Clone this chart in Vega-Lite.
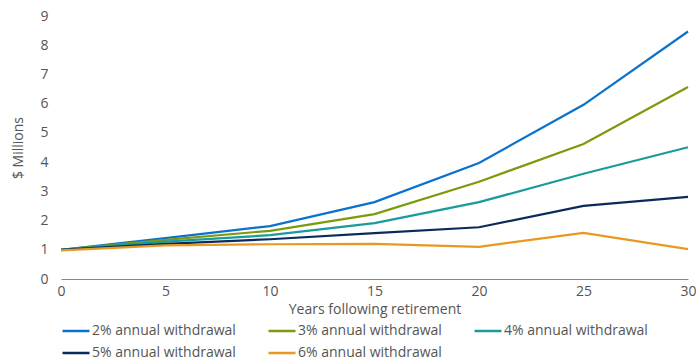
{
  "$schema": "https://vega.github.io/schema/vega-lite/v6.json",
  "autosize": "none",
  "width": 627,
  "height": 263,
  "padding": {"left": 61, "top": 16, "right": 8, "bottom": 85},
  "background": "white",
  "config": {
    "view": {"stroke": null},
    "font": "Open Sans",
    "axis": {"labelColor": "#555", "titleColor": "#555", "labelFont": "Open Sans", "titleFont": "Open Sans", "labelFontSize": 14, "titleFontSize": 14, "titleFontWeight": "normal", "grid": false}
  },
  "data": {"values": [
    {"year": 0, "series": "2% annual withdrawal", "value": 1.0},
    {"year": 5, "series": "2% annual withdrawal", "value": 1.4},
    {"year": 10, "series": "2% annual withdrawal", "value": 1.81},
    {"year": 15, "series": "2% annual withdrawal", "value": 2.63},
    {"year": 20, "series": "2% annual withdrawal", "value": 3.97},
    {"year": 25, "series": "2% annual withdrawal", "value": 5.96},
    {"year": 30, "series": "2% annual withdrawal", "value": 8.47},
    {"year": 0, "series": "3% annual withdrawal", "value": 1.0},
    {"year": 5, "series": "3% annual withdrawal", "value": 1.34},
    {"year": 10, "series": "3% annual withdrawal", "value": 1.65},
    {"year": 15, "series": "3% annual withdrawal", "value": 2.22},
    {"year": 20, "series": "3% annual withdrawal", "value": 3.33},
    {"year": 25, "series": "3% annual withdrawal", "value": 4.62},
    {"year": 30, "series": "3% annual withdrawal", "value": 6.57},
    {"year": 0, "series": "4% annual withdrawal", "value": 1.0},
    {"year": 5, "series": "4% annual withdrawal", "value": 1.28},
    {"year": 10, "series": "4% annual withdrawal", "value": 1.5},
    {"year": 15, "series": "4% annual withdrawal", "value": 1.91},
    {"year": 20, "series": "4% annual withdrawal", "value": 2.63},
    {"year": 25, "series": "4% annual withdrawal", "value": 3.6},
    {"year": 30, "series": "4% annual withdrawal", "value": 4.51},
    {"year": 0, "series": "5% annual withdrawal", "value": 1.0},
    {"year": 5, "series": "5% annual withdrawal", "value": 1.2},
    {"year": 10, "series": "5% annual withdrawal", "value": 1.36},
    {"year": 15, "series": "5% annual withdrawal", "value": 1.57},
    {"year": 20, "series": "5% annual withdrawal", "value": 1.77},
    {"year": 25, "series": "5% annual withdrawal", "value": 2.5},
    {"year": 30, "series": "5% annual withdrawal", "value": 2.81},
    {"year": 0, "series": "6% annual withdrawal", "value": 0.98},
    {"year": 5, "series": "6% annual withdrawal", "value": 1.15},
    {"year": 10, "series": "6% annual withdrawal", "value": 1.19},
    {"year": 15, "series": "6% annual withdrawal", "value": 1.2},
    {"year": 20, "series": "6% annual withdrawal", "value": 1.1},
    {"year": 25, "series": "6% annual withdrawal", "value": 1.58},
    {"year": 30, "series": "6% annual withdrawal", "value": 1.02}
  ]},
  "mark": {"type": "line", "strokeWidth": 2.2},
  "encoding": {
    "x": {"field": "year", "type": "quantitative", "scale": {"domain": [0, 30], "nice": false},
      "axis": {"values": [0, 5, 10, 15, 20, 25, 30], "title": "Years following retirement", "domainColor": "#888", "ticks": false, "labelPadding": 5, "titlePadding": 4, "labelFlush": false}},
    "y": {"field": "value", "type": "quantitative", "scale": {"domain": [0, 9], "nice": false},
      "axis": {"values": [0,1,2,3,4,5,6,7,8,9], "title": "$ Millions", "domain": false, "ticks": false, "labelPadding": 13, "titlePadding": 14}},
    "color": {"field": "series", "type": "nominal",
      "scale": {"domain": ["2% annual withdrawal", "3% annual withdrawal", "4% annual withdrawal", "5% annual withdrawal", "6% annual withdrawal"],
        "range": ["#0a72cc", "#7b9a0e", "#1a9a9c", "#0b2a5c", "#e8991f"]},
      "legend": {"orient": "bottom", "title": null, "columns": 3, "direction": "horizontal", "symbolType": "stroke", "symbolSize": 729, "symbolStrokeWidth": 2.5, "labelFont": "Open Sans", "labelFontSize": 14, "labelColor": "#555", "columnPadding": 27, "rowPadding": 0, "labelOffset": 1, "offset": 0, "padding": 0}
    }
  }
}
